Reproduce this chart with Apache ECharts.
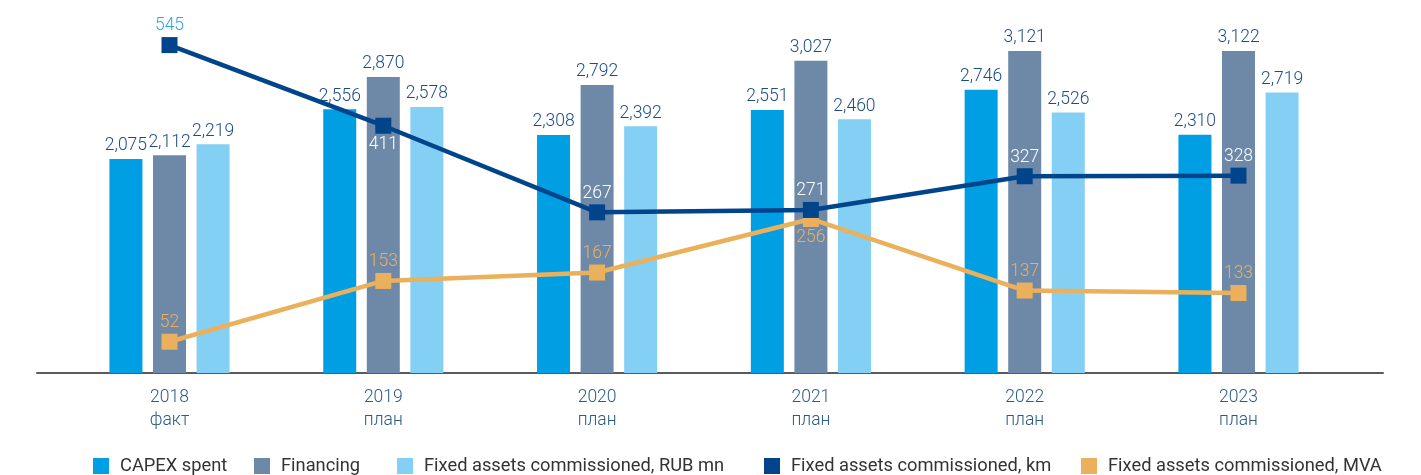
<!DOCTYPE html>
<html>
<head>
<meta charset="utf-8">
<script src="https://cdn.jsdelivr.net/npm/echarts@6/dist/echarts.min.js"></script>
<style>
    html, body { margin: 0; padding: 0; background: #fff; }
    #chart { width: 1421px; height: 475px; }
</style>
</head>
<body>
<div id="chart"></div>
<script>
// data
const years = ['2018\nфакт', '2019\nплан', '2020\nплан', '2021\nплан', '2022\nплан', '2023\nплан'];
const capexSpent = [2075, 2556, 2308, 2551, 2746, 2310];
const financing = [2112, 2870, 2792, 3027, 3121, 3122];
const assetsRub = [2219, 2578, 2392, 2460, 2526, 2719];
const assetsKm = [545, 411, 267, 271, 327, 328];
const assetsMva = [52, 153, 167, 256, 137, 133];

const names = ['CAPEX spent', 'Financing', 'Fixed assets commissioned, RUB mn',
    'Fixed assets commissioned, km', 'Fixed assets commissioned, MVA'];

const numFont = "Roboto, sans-serif";
const txtFont = "Roboto, sans-serif";

const fmt = v => v.toLocaleString('en-US');

// label placement per point (top unless noted)
const kmBelow = [1];
const mvaBelow = [3];

const chart = echarts.init(document.getElementById('chart'));

function barSeries(name, values, color) {
    return {
        name: name,
        type: 'bar',
        data: values,
        barWidth: 33,
        barGap: '32%',
        itemStyle: { color: color },
        label: {
            show: true,
            position: 'top',
            distance: 4,
            color: '#1c4c86',
            fontFamily: numFont,
            fontWeight: 300,
            fontSize: 17.5,
            formatter: p => fmt(p.value)
        }
    };
}

function lineSeries(name, values, color, below, labelColor, z) {
    return {
        name: name,
        type: 'line',
        yAxisIndex: 1,
        z: z,
        data: values.map((v, i) => {
            const item = { value: v };
            const lbl = {};
            if (below.includes(i)) lbl.position = 'bottom';
            if (typeof labelColor === 'function') lbl.color = labelColor(i);
            item.label = lbl;
            return item;
        }),
        symbol: 'rect',
        symbolSize: 16,
        lineStyle: { color: color, width: 4.5 },
        itemStyle: { color: color },
        label: {
            show: true,
            position: 'top',
            distance: 2,
            fontFamily: numFont,
            fontWeight: 300,
            fontSize: 17.5,
            color: typeof labelColor === 'string' ? labelColor : '#fff'
        }
    };
}

const legendLefts = [93, 254, 397, 764, 1081];
const legends = names.map((n, i) => ({
    data: [n],
    left: legendLefts[i],
    top: 457,
    padding: 0,
    icon: 'rect',
    itemWidth: 16,
    itemHeight: 16,
    textStyle: {
        color: '#333',
        fontFamily: txtFont,
        fontSize: 18.3,
        padding: [0, 0, 0, 6]
    }
}));

chart.setOption({
    animation: false,
    legend: legends,
    grid: [
        { left: 62.6, right: 75.6, top: 12, bottom: 102 },
        { left: 37, right: 38, top: 12, bottom: 102 }
    ],
    xAxis: [
        {
            type: 'category',
            data: years,
            gridIndex: 0,
            axisLine: { show: false },
            axisTick: { show: false },
            axisLabel: {
                margin: 13,
                color: '#2d5b82',
                fontFamily: numFont,
                fontWeight: 300,
                fontSize: 17.5,
                lineHeight: 23
            }
        },
        {
            type: 'value',
            gridIndex: 1,
            min: 0,
            max: 1,
            axisLine: { show: true, lineStyle: { color: '#5b5b5b', width: 2 } },
            axisTick: { show: false },
            axisLabel: { show: false },
            splitLine: { show: false }
        }
    ],
    yAxis: [
        { type: 'value', gridIndex: 0, min: 0, max: 3500, show: false },
        { type: 'value', gridIndex: 0, min: 0, max: 600, show: false },
        { type: 'value', gridIndex: 1, min: 0, max: 1, show: false }
    ],
    series: [
        barSeries(names[0], capexSpent, '#009fe3'),
        barSeries(names[1], financing, '#6e89a8'),
        barSeries(names[2], assetsRub, '#84cff4'),
        lineSeries(names[3], assetsKm, '#00448c', kmBelow, i => (i === 0 ? '#29a9e0' : '#ffffff'), 4),
        lineSeries(names[4], assetsMva, '#ebb05b', mvaBelow, '#ebb05b', 3)
    ]
});
</script>
</body>
</html>
